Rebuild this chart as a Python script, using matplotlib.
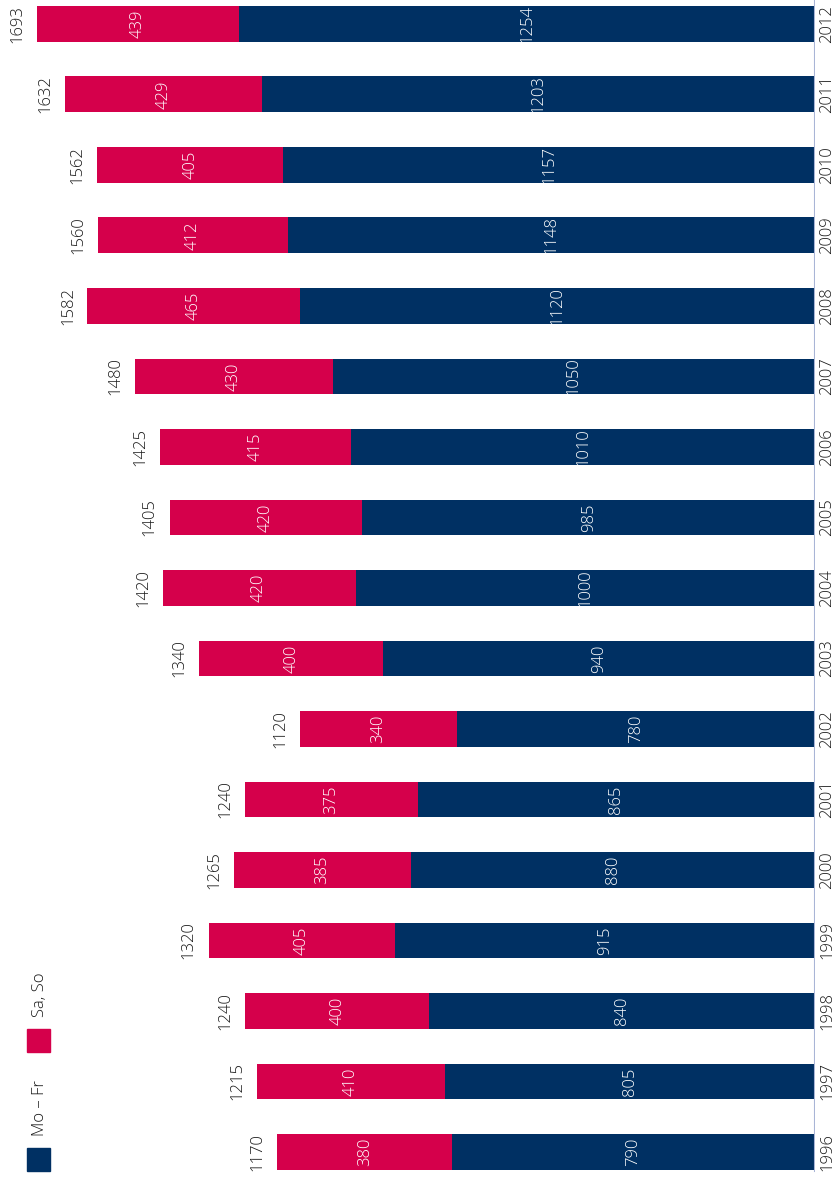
import matplotlib.pyplot as plt
from matplotlib.patches import Rectangle
import numpy as np

years = ['1996', '1997', '1998', '1999', '2000', '2001', '2002', '2003', '2004',
         '2005', '2006', '2007', '2008', '2009', '2010', '2011', '2012']
mo_fr = [790, 805, 840, 915, 880, 865, 780, 940, 1000, 985, 1010, 1050, 1120, 1148, 1157, 1203, 1254]
sa_so = [380, 410, 400, 405, 385, 375, 340, 400, 420, 420, 415, 430, 465, 412, 405, 429, 439]
totals = [1170, 1215, 1240, 1320, 1265, 1240, 1120, 1340, 1420, 1405, 1425, 1480, 1582, 1560, 1562, 1632, 1693]

navy = '#003063'
red = '#d5004b'
plt.rcParams['font.family'] = ['Open Sans', 'DejaVu Sans']
plt.rcParams['font.weight'] = 'light'

W, H = 839, 1182
fig = plt.figure(figsize=(W / 100, H / 100), dpi=100)
ax = fig.add_axes([0, 0, 815 / W, 1])

pos = np.arange(len(years))
ax.barh(pos, mo_fr, height=0.51, color=navy)
ax.barh(pos, sa_so, left=mo_fr, height=0.51, color=red)

ax.set_xlim(1774, 0)
ax.set_ylim(-0.4255, 16.34)
ax.axis('off')
ax.axvline(0, ymin=11 / H, ymax=1, color='#a9b5d6', lw=1.5)

fs = 12
for i in pos:
    ax.text(mo_fr[i] / 2, i, str(mo_fr[i]), rotation=90, color='white',
            ha='center', va='center', fontsize=fs)
    ax.text(mo_fr[i] + sa_so[i] / 2, i, str(sa_so[i]), rotation=90, color='white',
            ha='center', va='center', fontsize=fs)
    ax.text(totals[i] + 43, i, str(totals[i]), rotation=90, color='#1a1a1a',
            ha='center', va='center', fontsize=fs)
    ax.text(-27, i, years[i], rotation=90, color='#1a1a1a',
            ha='center', va='center', fontsize=fs, clip_on=False)

# Legende
fig.patches.append(Rectangle((27 / W, 1 - 1171 / H), 23 / W, 23 / H,
                             transform=fig.transFigure, color=navy))
fig.patches.append(Rectangle((27 / W, 1 - 1052 / H), 23 / W, 23 / H,
                             transform=fig.transFigure, color=red))
fig.text(40 / W, 1 - 1108 / H, 'Mo – Fr', rotation=90, ha='center', va='center',
         fontsize=fs, color='#1a1a1a')
fig.text(40 / W, 1 - 995 / H, 'Sa, So', rotation=90, ha='center', va='center',
         fontsize=fs, color='#1a1a1a')

fig.savefig('out.png', dpi=100)
